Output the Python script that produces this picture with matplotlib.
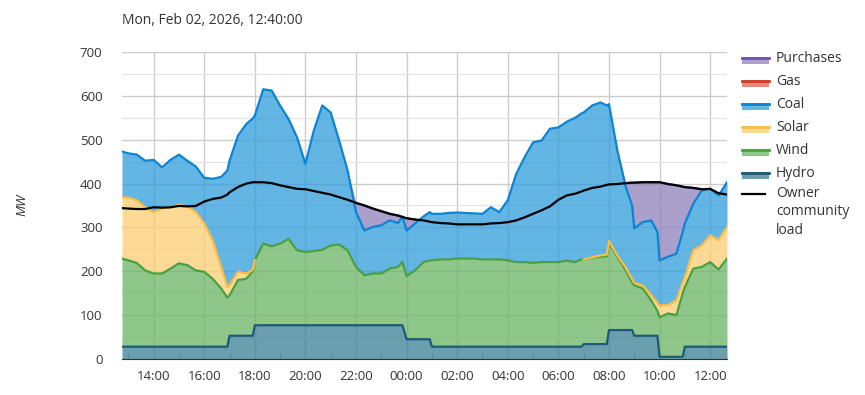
import numpy as np
import pandas as pd
import matplotlib
matplotlib.use("Agg")
import matplotlib.pyplot as plt
import matplotlib.dates as mdates
from matplotlib.ticker import MultipleLocator
from matplotlib.patches import Rectangle
from matplotlib.lines import Line2D

plt.rcParams['font.family'] = ['Open Sans', 'DejaVu Sans']

# times from Feb 01 12:45 to Feb 02 12:40
times = ["12:45", "13:00", "13:20", "13:40", "14:00", "14:20", "14:40", "15:00", "15:20", "15:40",
         "16:00", "16:20", "16:40", "16:55", "17:00", "17:20", "17:40", "17:55", "18:00", "18:20",
         "18:40", "19:00", "19:20", "19:40", "20:00", "20:20", "20:40", "21:00", "21:20", "21:40",
         "22:00", "22:20", "22:40", "23:00", "23:20", "23:40", "23:50", "00:00", "00:20", "00:40",
         "00:55", "01:00", "01:20", "01:40", "02:00", "02:20", "02:40", "03:00", "03:20", "03:40",
         "04:00", "04:20", "04:40", "05:00", "05:20", "05:40", "06:00", "06:20", "06:40", "06:55",
         "07:00", "07:20", "07:40", "07:55", "08:00", "08:20", "08:40", "08:55", "09:00", "09:20",
         "09:40", "09:55", "10:00", "10:20", "10:40", "10:55", "11:00", "11:20", "11:40", "12:00",
         "12:20", "12:40"]

hydro = [28] * 14 + [53] * 4 + [77] * 19 + [45] * 4 + [28] * 19 + [34] * 4 + [66] * 4 + [53] * 4 + [5] * 4 + [28] * 6

wind = [201, 197, 191, 174, 167, 167, 178, 190, 186, 174,
        171, 155, 133, 112, 92, 127, 130, 147, 148, 186,
        180, 186, 197, 171, 167, 169, 172, 182, 184, 171,
        133, 114, 118, 118, 129, 133, 144, 144, 157, 176,
        180, 197, 199, 199, 201, 201, 201, 199, 199, 199,
        197, 193, 193, 191, 193, 193, 193, 196, 193, 199,
        193, 197, 199, 200, 199, 167, 136, 109, 115, 108,
        81, 57, 90, 99, 95, 145, 136, 178, 182, 193,
        176, 201]

solar = [140, 143, 143, 144, 140, 148, 140, 134, 134, 133,
         110, 88, 49, 25, 23, 19, 12, 3, 0, 0,
         0, 0, 0, 0, 0, 0, 0, 0, 0, 0,
         0, 0, 0, 0, 0, 0, 0, 0, 0, 0,
         0, 0, 0, 0, 0, 0, 0, 0, 0, 0,
         0, 0, 0, 0, 0, 0, 0, 0, 0, 0,
         0, 1, 3, 4, 4, 3, 6, 7, 6, 7,
         12, 18, 27, 19, 34, 25, 23, 42, 49, 61,
         67, 72]

coal = [104, 101, 104, 106, 119, 94, 108, 114, 104, 104,
        104, 140, 205, 265, 284, 310, 341, 345, 330, 352,
        355, 315, 273, 258, 201, 275, 329, 303, 237, 182,
        125, 102, 106, 110, 110, 100, 104, 104, 107, 104,
        110, 106, 104, 106, 105, 104, 103, 104, 119, 108,
        137, 201, 239, 275, 277, 304, 307, 317, 329, 333,
        335, 346, 349, 340, 312, 239, 184, 168, 124, 144,
        170, 162, 103, 110, 106, 115, 122, 106, 125, 106,
        102, 102]

gas = [0] * len(times)

purchases = [0] * 30 + [21, 57, 42, 32, 15, 17, 0, 28, 9, 0, 0] + [0] * 25 + \
            [9, 52, 104, 91, 87, 113, 178, 166, 156, 103, 83, 36, 3, 0, 5, 0]

load = [344, 343, 342, 342, 346, 345, 346, 349, 348, 349,
        359, 365, 368, 375, 380, 392, 400, 403, 403, 403,
        401, 396, 392, 388, 387, 383, 379, 375, 369, 363,
        356, 350, 343, 337, 331, 327, 324, 321, 318, 316,
        313, 312, 310, 309, 307, 307, 307, 307, 309, 310,
        312, 316, 323, 331, 339, 348, 363, 373, 377, 382,
        384, 390, 393, 397, 398, 399, 401, 402, 402, 403,
        403, 403, 403, 399, 396, 393, 392, 390, 387, 388,
        378, 375]

series = [("Hydro", hydro, (56/255, 127/255, 150/255), "#1b5a78"),
          ("Wind", wind, (106/255, 180/255, 99/255), "#4aa040"),
          ("Solar", solar, (252/255, 206/255, 115/255), "#f9bd48"),
          ("Coal", coal, (47/255, 156/255, 220/255), "#0b84d3"),
          ("Gas", gas, (224/255, 98/255, 78/255), "#c8402a"),
          ("Purchases", purchases, (143/255, 127/255, 187/255), "#6e55a5")]

base_day = pd.Timestamp("2026-02-01")
stamps = []
day = 0
prev = None
for s in times:
    h, m = map(int, s.split(":"))
    if prev is not None and h * 60 + m <= prev:
        day += 1
    prev = h * 60 + m
    stamps.append(base_day + pd.Timedelta(days=day, hours=h, minutes=m))
x = pd.DatetimeIndex(stamps)

fig = plt.figure(figsize=(8.65, 3.95), dpi=100)
ax = fig.add_axes([122/865, 1 - 359/395, 605/865, 307/395])

bottom = np.zeros(len(times))
for name, vals, fill, edge in series:
    vals = np.array(vals, dtype=float)
    top = bottom + vals
    ax.fill_between(x, bottom, top, color=fill, alpha=0.75, lw=0, zorder=2)
    if name in ("Hydro", "Wind", "Coal"):
        ax.plot(x, top, color=edge, lw=1.6, zorder=3)
    elif name == "Solar":
        show = vals > 0
        show[1:] |= vals[:-1] > 0
        show[:-1] |= vals[1:] > 0
        ax.plot(x, np.where(show, top, np.nan), color=edge, lw=1.6, zorder=3)
    else:
        ax.plot(x, np.where(vals > 0, top, np.nan), color=edge, lw=1.6, zorder=3)
    bottom = top

ax.plot(x, load, color="black", lw=1.6, zorder=4)

ax.set_xlim(x[0], x[-1])
ax.set_ylim(0, 700)
ax.set_axisbelow(True)
ax.yaxis.set_major_locator(MultipleLocator(100))
ax.yaxis.set_minor_locator(MultipleLocator(50))
ax.xaxis.set_major_locator(mdates.HourLocator(byhour=range(0, 24, 2)))
ax.xaxis.set_minor_locator(mdates.HourLocator(byhour=range(1, 24, 2)))
ax.xaxis.set_major_formatter(mdates.DateFormatter("%H:%M"))
ax.grid(which="major", color="#cccccc", lw=1)
ax.grid(which="minor", axis="y", color="#e6e6e6", lw=1)
for sp in ["left", "right", "top"]:
    ax.spines[sp].set_visible(False)
ax.spines["bottom"].set_color("#333333")
ax.tick_params(axis="y", which="both", length=0, pad=14, labelsize=9.5, labelcolor="#333333")
ax.tick_params(axis="x", which="major", length=0, pad=8, labelsize=9.5, labelcolor="#333333")
ax.tick_params(axis="x", which="minor", direction="in", length=4, color="#999999")

fig.text(122/865, 1 - 20/395, "Mon, Feb 02, 2026, 12:40:00", ha="left", va="center",
         fontsize=10, color="#333333")
fig.text(22/865, 1 - 205/395, "MW", rotation=90, style="italic", ha="center", va="center",
         fontsize=9.5, color="#333333")

# legend drawn by hand so the load swatch sits on the first text line
legend_rows = [series[5], series[4], series[3], series[2], series[1], series[0]]
for i, (name, vals, fill, edge) in enumerate(legend_rows):
    top_px = 57 + 23 * i
    fig.add_artist(Rectangle((742/865, 1 - (top_px + 7)/395), 27/865, 7/395,
                             transform=fig.transFigure, facecolor=fill, alpha=0.75, lw=0))
    fig.add_artist(Line2D([742/865, 769/865], [1 - (top_px + 1)/395] * 2,
                          transform=fig.transFigure, color=edge, lw=2))
    fig.text(776/865, 1 - (top_px + 1.5)/395, name, ha="left", va="center",
             fontsize=10, color="#333333")
fig.add_artist(Line2D([742/865, 765/865], [1 - 194/395] * 2,
                      transform=fig.transFigure, color="black", lw=1.6))
fig.text(776/865, 1 - 186/395, "Owner\ncommunity\nload", ha="left", va="top",
         fontsize=10, color="#333333", linespacing=1.3)

fig.savefig("out.png", dpi=100)
